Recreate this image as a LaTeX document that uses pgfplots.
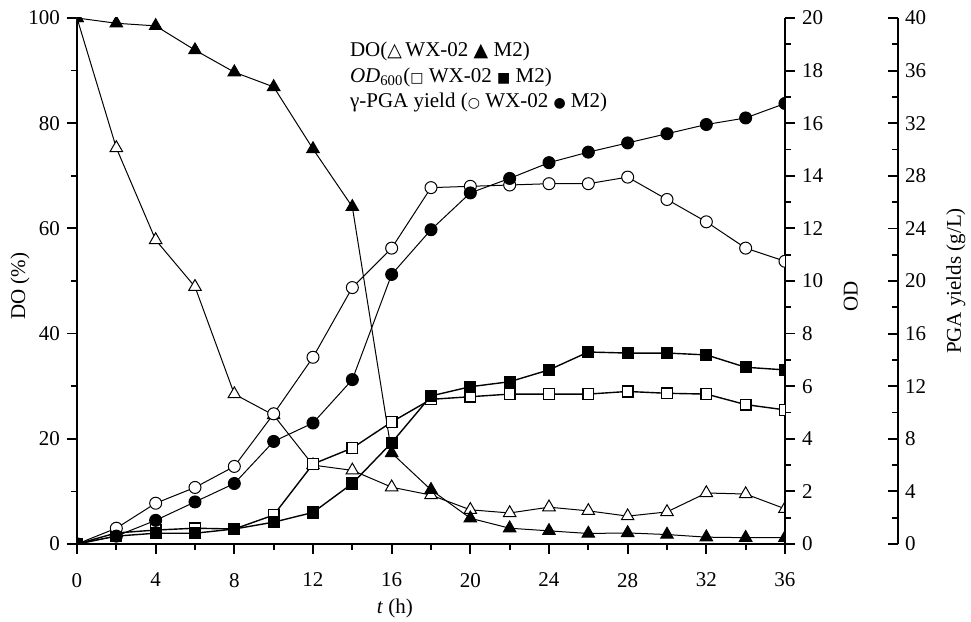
\documentclass[border=0pt]{standalone}
\usepackage{fontspec}
\setmainfont{Liberation Serif}
\newfontfamily\symfont{DejaVu Sans}
\usepackage{pgfplots}
\usepackage{pgfplotstable}
\pgfplotsset{compat=1.18}

\pgfplotstableread{
t  dowx  dom2  odwx  odm2  pgawx  pgam2
0  100   100   0     0     0      0
2  75.3  99.0  0.42  0.30  1.2    0.6
4  57.8  98.5  0.53  0.41  3.1    1.8
6  48.9  93.9  0.60  0.41  4.3    3.2
8  28.5  89.7  0.57  0.57  5.9    4.6
10 24.5  86.9  1.10  0.83  9.9    7.8
12 15.0  75.1  3.04  1.20  14.2   9.2
14 14.0  64.1  3.65  2.30  19.5   12.5
16 10.8  17.3  4.64  3.85  22.5   20.5
18 9.3   10.3  5.50  5.63  27.1   23.9
20 6.5   4.9   5.60  5.98  27.2   26.7
22 5.9   3.0   5.70  6.17  27.3   27.8
24 7.0   2.5   5.70  6.62  27.4   29.0
26 6.3   2.0   5.70  7.30  27.4   29.8
28 5.3   2.1   5.80  7.26  27.9   30.5
30 6.1   1.8   5.73  7.26  26.2   31.2
32 9.7   1.3   5.70  7.19  24.5   31.9
34 9.5   1.2   5.30  6.72  22.5   32.4
36 6.7   1.2   5.10  6.62  21.5   33.5
}\data

\begin{document}
\begin{tikzpicture}[font=\fontsize{10.5}{12.6}\selectfont]
\useasboundingbox (0,0) rectangle (485.5pt,311pt);
\pgfplotsset{
  base/.style={
    at={(38.5pt,39pt)}, anchor=south west,
    scale only axis, width=354pt, height=263pt,
    xmin=0, xmax=36, ymin=0,
    clip marker paths=true,
    /pgf/number format/assume math mode=true,
    axis line style={-, line width=0.9pt, black},
    tick style={line width=0.9pt, black},
    major tick length=5pt, minor tick length=3pt,
    every axis plot/.append style={line width=0.5pt, black},
    every axis y label/.style={rotate=90, anchor=center},
  }
}
% DO axis
\begin{axis}[base, ymax=100,
  axis x line*=bottom, axis y line*=left, tick align=outside,
  xtick={0,4,...,36}, minor xtick={2,6,...,34},
  xticklabel shift=6pt,
  ytick={0,20,...,100}, minor ytick={10,30,...,90},
  every axis x label/.style={at={(axis description cs:0.449,-0.1217)}, anchor=center},
  xlabel={\textit{t} (h)},
  ylabel={DO (\%)},
  every axis y label/.append style={at={(axis description cs:-0.0805,0.49)}},
]
\addplot[mark=triangle*, mark size=3.6pt, mark options={fill=white}] table[x=t,y=dowx]{\data};
\addplot[mark=triangle*, mark size=3.6pt, mark options={fill=black}] table[x=t,y=dom2]{\data};
\node[anchor=base west] at (axis description cs:0.3757,0.926)
  {DO({\symfont\fontsize{9.5}{10}\selectfont △}\,WX-02 {\symfont\fontsize{9.5}{10}\selectfont ▲} M2)};
\node[anchor=base west] at (axis description cs:0.3757,0.878)
  {\textit{OD}\textsubscript{600}({\symfont\fontsize{7}{8}\selectfont □} WX-02 {\symfont\fontsize{7}{8}\selectfont ■} M2)};
\node[anchor=base west] at (axis description cs:0.3757,0.829)
  {γ-PGA yield ({\symfont\fontsize{7}{8}\selectfont ○} WX-02 {\symfont\fontsize{7}{8}\selectfont ●} M2)};
\end{axis}
% OD axis
\begin{axis}[base, ymax=20,
  hide x axis, axis y line*=right, tick align=outside,
  ytick={0,2,...,20}, minor ytick={1,3,...,19},
  ylabel={OD},
  every axis y label/.append style={at={(axis description cs:1.093,0.47)}},
]
\addplot[mark=square*, mark size=2.7pt, line width=0.7pt, mark options={fill=white}] table[x=t,y=odwx]{\data};
\addplot[mark=square*, mark size=2.7pt, line width=0.7pt, mark options={fill=black}] table[x=t,y=odm2]{\data};
\end{axis}
% PGA axis
\begin{axis}[base, ymax=40,
  hide x axis, axis y line*=right, tick align=inside,
  ytick={0,4,...,40}, minor ytick={2,6,...,38},
  y axis line style={xshift=56.5pt},
  ytick style={xshift=56.5pt},
  yticklabel style={xshift=56.5pt},
  ylabel={PGA yields (g/L)},
  every axis y label/.append style={at={(axis description cs:1.2415,0.50)}},
]
\addplot[mark=*, mark size=3pt, mark options={fill=white}] table[x=t,y=pgawx]{\data};
\addplot[mark=*, mark size=3pt, mark options={fill=black}] table[x=t,y=pgam2]{\data};
\end{axis}
\end{tikzpicture}
\end{document}
